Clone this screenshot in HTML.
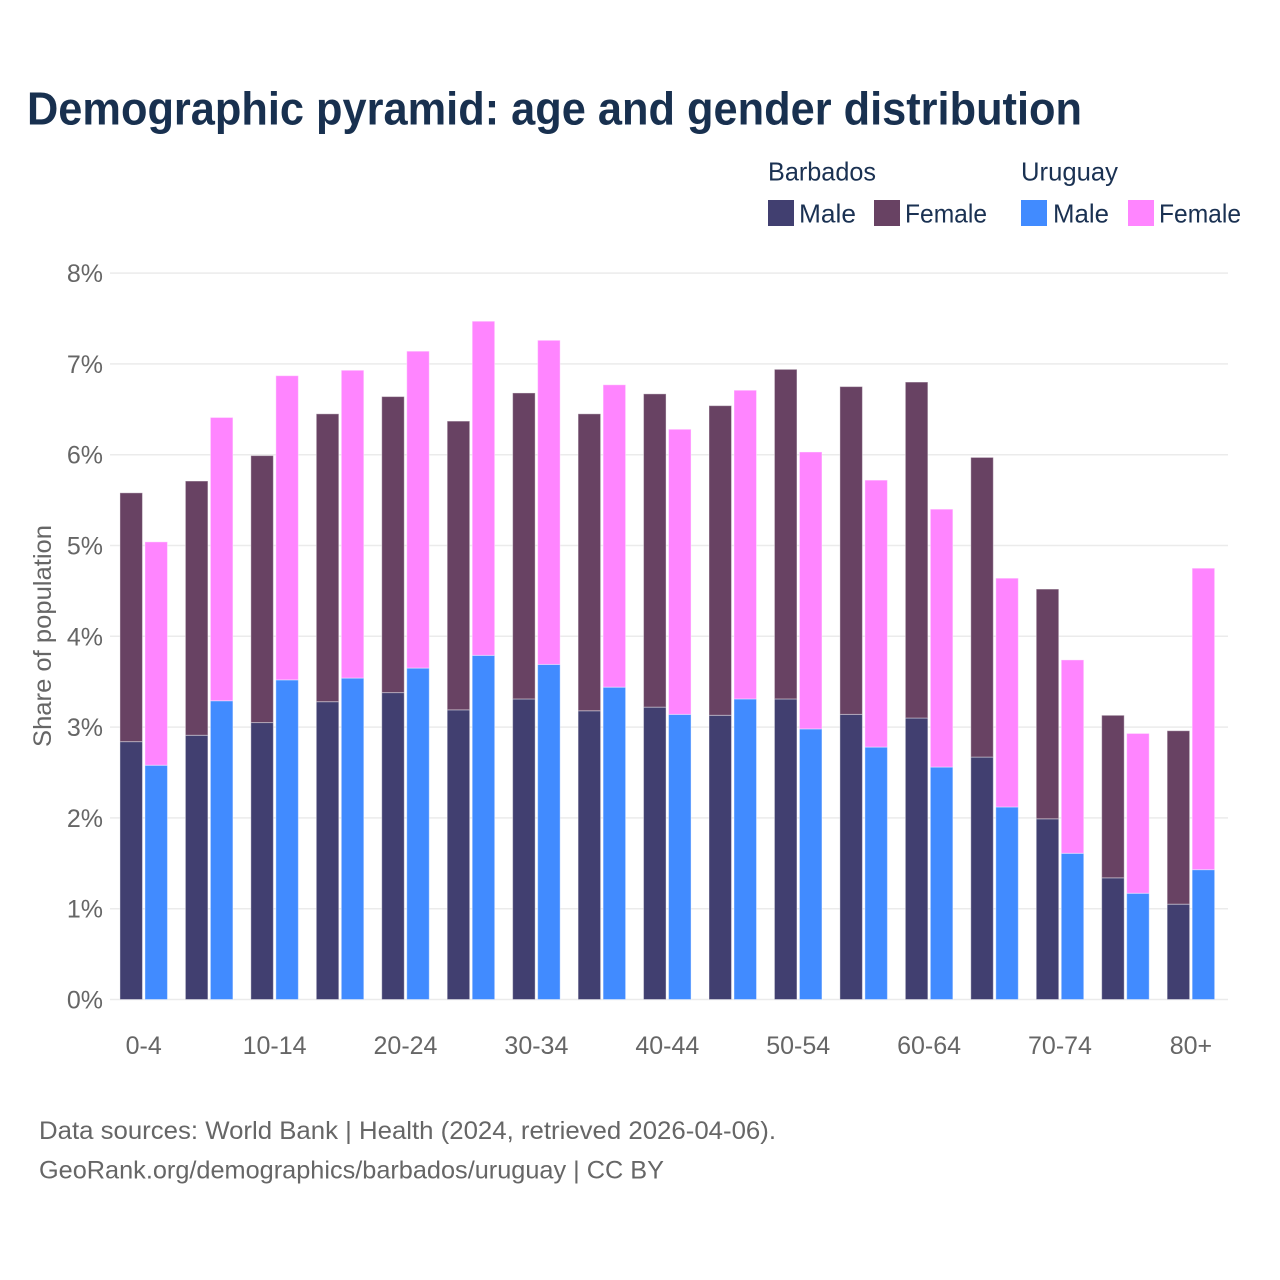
<!DOCTYPE html>
<html lang="en">
<head>
<meta charset="utf-8">
<title>Demographic pyramid: age and gender distribution</title>
<style>
html,body{margin:0;padding:0;background:#fff;}
svg{display:block;font-family:"Liberation Sans",sans-serif;}
.leg{font-size:26px;fill:#1a3152;}
.foot{font-size:25px;fill:#666;}
.tick{font-size:25px;fill:#666;}
</style>
</head>
<body>
<svg id="chart" xmlns="http://www.w3.org/2000/svg" width="1280" height="1280" viewBox="0 0 1280 1280">
  <rect x="0" y="0" width="1280" height="1280" fill="#fff"/>
  <text x="27" y="124.5" font-size="46" font-weight="700" fill="#18304f" textLength="1055" lengthAdjust="spacingAndGlyphs">Demographic pyramid: age and gender distribution</text>

  <g>
    <text class="leg" x="768" y="180.5" textLength="108" lengthAdjust="spacingAndGlyphs">Barbados</text>
    <text class="leg" x="1021" y="180.5" textLength="97" lengthAdjust="spacingAndGlyphs">Uruguay</text>
    <rect x="768" y="200" width="26" height="26" fill="#413f70"/>
    <text class="leg" x="799" y="222.5" textLength="57" lengthAdjust="spacingAndGlyphs">Male</text>
    <rect x="874" y="200" width="26" height="26" fill="#684263"/>
    <text class="leg" x="905" y="222.5" textLength="82" lengthAdjust="spacingAndGlyphs">Female</text>
    <rect x="1021" y="200" width="26" height="26" fill="#418bff"/>
    <text class="leg" x="1053" y="222.5" textLength="56" lengthAdjust="spacingAndGlyphs">Male</text>
    <rect x="1128" y="200" width="26" height="26" fill="#ff85ff"/>
    <text class="leg" x="1159" y="222.5" textLength="82" lengthAdjust="spacingAndGlyphs">Female</text>
  </g>

  <g id="grid"></g>
  <g id="yticks"></g>
  <g id="bars"></g>
  <g id="xticks"></g>

  <text class="tick" transform="translate(51,747) rotate(-90)" x="0" y="0" textLength="222" lengthAdjust="spacingAndGlyphs">Share of population</text>

  <text class="foot" x="39" y="1139" textLength="737" lengthAdjust="spacingAndGlyphs">Data sources: World Bank | Health (2024, retrieved 2026-04-06).</text>
  <text class="foot" x="39" y="1178.5" textLength="625" lengthAdjust="spacingAndGlyphs">GeoRank.org/demographics/barbados/uruguay | CC BY</text>
</svg>
<script>
const ageGroups = ["0-4","5-9","10-14","15-19","20-24","25-29","30-34","35-39","40-44","45-49","50-54","55-59","60-64","65-69","70-74","75-79","80+"];
const xTickLabels = ["0-4","","10-14","","20-24","","30-34","","40-44","","50-54","","60-64","","70-74","","80+"];
const yTickValues = [0,1,2,3,4,5,6,7,8];
const barbadosMale = [2.84,2.91,3.05,3.28,3.38,3.19,3.31,3.18,3.22,3.13,3.31,3.14,3.10,2.67,1.99,1.34,1.05];
const barbadosFemale = [2.74,2.80,2.94,3.17,3.26,3.18,3.37,3.27,3.45,3.41,3.63,3.61,3.70,3.30,2.53,1.79,1.91];
const uruguayMale = [2.58,3.29,3.52,3.54,3.65,3.79,3.69,3.44,3.14,3.31,2.98,2.78,2.56,2.12,1.61,1.17,1.43];
const uruguayFemale = [2.46,3.12,3.35,3.39,3.49,3.68,3.57,3.33,3.14,3.40,3.05,2.94,2.84,2.52,2.13,1.76,3.32];

const NS = "http://www.w3.org/2000/svg";
function yScale(v){ return 999.5 - v * 90.8; }
function xScale(i){ return 143.7 + i * 65.45; }
const barWidth = 22.5;
const barGap = 2.5;

function makeRect(parent, x, top, bottom, fill){
  const r = document.createElementNS(NS, "rect");
  r.setAttribute("x", x);
  r.setAttribute("y", top);
  r.setAttribute("width", barWidth);
  r.setAttribute("height", Math.max(0, bottom - top));
  r.setAttribute("fill", fill);
  r.setAttribute("stroke", "#fff");
  r.setAttribute("stroke-opacity", "0.4");
  r.setAttribute("stroke-width", "1");
  parent.appendChild(r);
  return r;
}

const gridG = document.getElementById("grid");
const yG = document.getElementById("yticks");
yTickValues.forEach(function(v){
  const line = document.createElementNS(NS, "line");
  
  
  line.setAttribute("x1", 110);
  line.setAttribute("x2", 1228);
  line.setAttribute("y1", yScale(v));
  line.setAttribute("y2", yScale(v));
  line.setAttribute("stroke", "#ebebeb");
  line.setAttribute("stroke-width", "1.5");
  gridG.appendChild(line);
  const t = document.createElementNS(NS, "text");
  
  
  t.setAttribute("class", "tick");
  t.setAttribute("x", 103);
  t.setAttribute("y", yScale(v) + 9);
  t.setAttribute("text-anchor", "end");
  t.textContent = v + "%";
  yG.appendChild(t);
});

const barsG = document.getElementById("bars");
ageGroups.forEach(function(age, i){
  const cx = xScale(i);
  const x1 = cx - barGap / 2 - barWidth;
  const x2 = cx + barGap / 2;
  const bm = makeRect(barsG, x1, yScale(barbadosMale[i]), yScale(0), "#413f70");
  
  
  const bf = makeRect(barsG, x1, yScale(barbadosMale[i] + barbadosFemale[i]), yScale(barbadosMale[i]), "#684263");
  
  
  const um = makeRect(barsG, x2, yScale(uruguayMale[i]), yScale(0), "#418bff");
  
  
  const uf = makeRect(barsG, x2, yScale(uruguayMale[i] + uruguayFemale[i]), yScale(uruguayMale[i]), "#ff85ff");
  
  
});

const xG = document.getElementById("xticks");
xTickLabels.forEach(function(label, i){
  if (!label) return;
  const t = document.createElementNS(NS, "text");
  
  
  t.setAttribute("class", "tick");
  t.setAttribute("x", xScale(i));
  t.setAttribute("y", 1054);
  t.setAttribute("text-anchor", "middle");
  t.textContent = label;
  xG.appendChild(t);
});
</script>
</body>
</html>
